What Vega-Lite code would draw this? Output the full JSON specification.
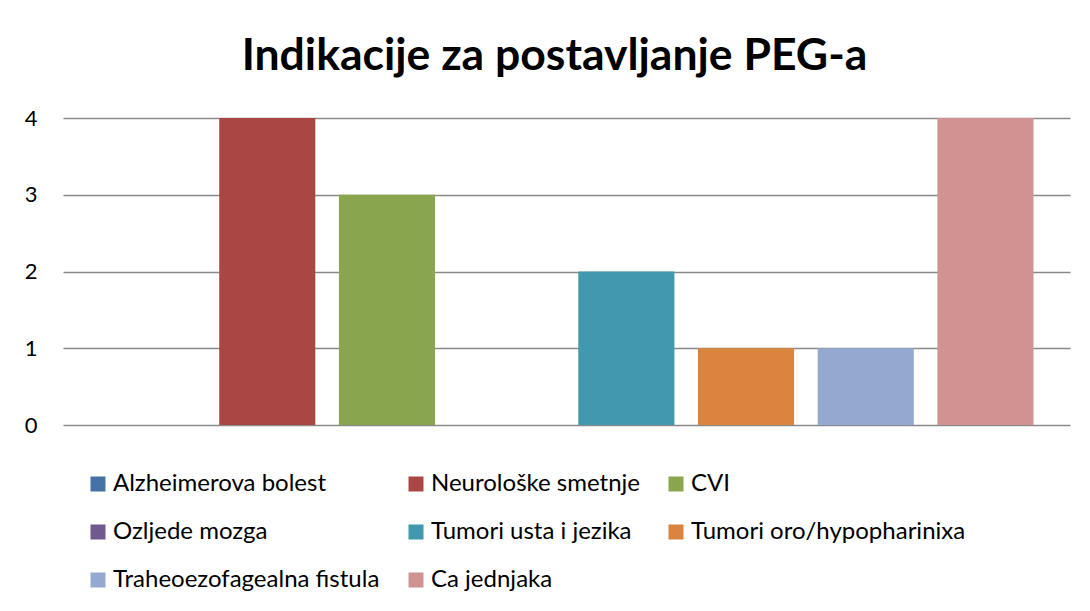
{
  "$schema": "https://vega.github.io/schema/vega-lite/v6.json",
  "width": 1007,
  "height": 307,
  "autosize": {"type": "none"},
  "padding": {"left": 63, "top": 118, "right": 20, "bottom": 186},
  "background": "white",
  "title": {
    "text": "Indikacije za postavljanje PEG-a",
    "font": "Lato",
    "fontSize": 44.5,
    "fontWeight": "bold",
    "color": "black",
    "anchor": "middle",
    "dx": -12,
    "offset": 28
  },
  "data": {
    "values": [
      {"indikacija": "Alzheimerova bolest", "broj": 0},
      {"indikacija": "Neurološke smetnje", "broj": 4},
      {"indikacija": "CVI", "broj": 3},
      {"indikacija": "Ozljede mozga", "broj": 0},
      {"indikacija": "Tumori usta i jezika", "broj": 2},
      {"indikacija": "Tumori oro/hypopharinixa", "broj": 1},
      {"indikacija": "Traheoezofagealna fistula", "broj": 1},
      {"indikacija": "Ca jednjaka", "broj": 4}
    ]
  },
  "mark": {"type": "bar"},
  "encoding": {
    "x": {
      "field": "indikacija",
      "type": "nominal",
      "sort": null,
      "axis": null,
      "scale": {"paddingInner": 0.197, "paddingOuter": 0.305}
    },
    "y": {
      "field": "broj",
      "type": "quantitative",
      "scale": {"domain": [0, 4], "nice": false},
      "axis": {
        "values": [0, 1, 2, 3, 4],
        "title": null,
        "domain": false,
        "ticks": false,
        "grid": true,
        "gridColor": "#8a8a8a",
        "gridWidth": 1.5,
        "labelFont": "Lato",
        "labelFontSize": 22,
        "labelColor": "black",
        "labelPadding": 26,
        "format": "d"
      }
    },
    "color": {
      "field": "indikacija",
      "type": "nominal",
      "sort": null,
      "scale": {
        "domain": ["Alzheimerova bolest", "Neurološke smetnje", "CVI", "Ozljede mozga", "Tumori usta i jezika", "Tumori oro/hypopharinixa", "Traheoezofagealna fistula", "Ca jednjaka"],
        "range": ["#4572A7", "#AA4643", "#89A54E", "#71588F", "#4198AF", "#DB843D", "#93A9CF", "#D19392"]
      },
      "legend": {
        "title": null,
        "orient": "none",
        "legendX": 23,
        "legendY": 354,
        "direction": "horizontal",
        "columns": 3,
        "columnPadding": 24,
        "rowPadding": 24,
        "symbolType": "square",
        "symbolSize": 225,
        "symbolStrokeWidth": 0,
        "labelFont": "Lato",
        "labelFontSize": 24,
        "labelColor": "black",
        "labelOffset": 3,
        "labelLimit": 400
      }
    }
  },
  "config": {
    "view": {"stroke": null}
  }
}
